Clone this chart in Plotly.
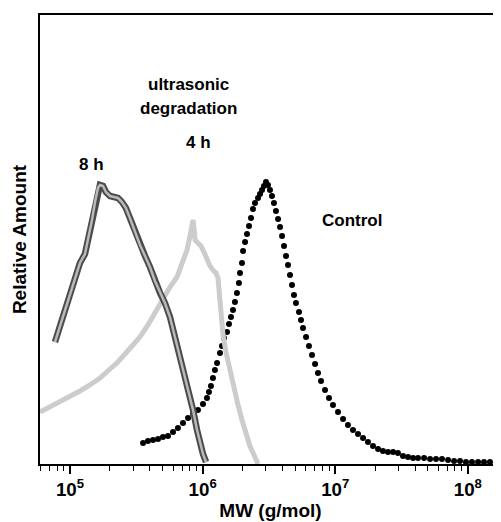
import plotly.graph_objects as go

# log10 of molecular weight (g/mol) and relative amount (arbitrary units)
control_log_mw = [5.551, 5.588, 5.626, 5.664, 5.701, 5.739, 5.777, 5.814, 5.852, 5.890,
                  5.928, 5.965, 6.003, 6.033, 6.048, 6.063, 6.078, 6.093, 6.109, 6.131,
                  6.146, 6.161, 6.184, 6.199, 6.214, 6.229, 6.244, 6.259, 6.274, 6.282,
                  6.297, 6.305, 6.320, 6.335, 6.350, 6.365, 6.380, 6.395, 6.418, 6.433,
                  6.448, 6.463, 6.478, 6.493, 6.508, 6.523, 6.538, 6.553, 6.569, 6.584,
                  6.599, 6.614, 6.629, 6.644, 6.659, 6.674, 6.689, 6.704, 6.727, 6.742,
                  6.757, 6.780, 6.802, 6.825, 6.848, 6.870, 6.893, 6.923, 6.953, 6.983,
                  7.021, 7.059, 7.096, 7.134, 7.172, 7.210, 7.247, 7.285, 7.323, 7.360,
                  7.398, 7.436, 7.473, 7.511, 7.549, 7.587, 7.624, 7.670, 7.715, 7.760,
                  7.805, 7.851, 7.896, 7.941, 7.986, 8.031, 8.077, 8.122, 8.167, 8.212,
                  8.250]
control_amount = [21, 23, 24, 25, 27, 28, 32, 36, 41, 46,
                  50, 54, 60, 66, 72, 78, 86, 94, 101, 111,
                  118, 126, 132, 140, 147, 154, 162, 171, 181, 191,
                  201, 213, 222, 230, 238, 246, 255, 261, 266, 270,
                  274, 278, 282, 279, 274, 268, 261, 253, 245, 237,
                  228, 218, 208, 199, 189, 179, 169, 161, 152, 144,
                  136, 127, 118, 109, 100, 91, 83, 74, 66, 59,
                  52, 45, 39, 34, 30, 26, 22, 18, 15, 13,
                  12, 12, 11, 8, 7, 6, 6, 6, 5, 5,
                  5, 4, 3, 3, 2, 2, 2, 2, 2, 1,
                  1]

h4_log_mw = [4.774, 4.849, 4.925, 5.000, 5.075, 5.151, 5.226, 5.302, 5.354, 5.415,
             5.468, 5.528, 5.588, 5.641, 5.679, 5.716, 5.754, 5.807, 5.845, 5.882,
             5.905, 5.928, 5.935, 5.943, 5.965, 5.988, 6.010, 6.033, 6.056, 6.078,
             6.101, 6.116, 6.124, 6.131, 6.139, 6.154, 6.176, 6.207, 6.237, 6.267,
             6.297, 6.327, 6.357, 6.388, 6.418]
h4_amount = [52, 57, 63, 68, 73, 79, 86, 95, 101, 110,
             118, 127, 139, 151, 161, 170, 177, 187, 200, 214,
             228, 244, 236, 224, 221, 218, 212, 204, 198, 194,
             191, 186, 174, 159, 146, 129, 112, 92, 74, 59,
             44, 30, 18, 9, 0]

h8_log_mw = [4.887, 4.925, 4.962, 5.000, 5.038, 5.075, 5.113, 5.136, 5.166, 5.189,
             5.211, 5.226, 5.249, 5.271, 5.302, 5.332, 5.362, 5.392, 5.422, 5.452,
             5.490, 5.528, 5.566, 5.603, 5.641, 5.679, 5.716, 5.754, 5.784, 5.814,
             5.852, 5.890, 5.928, 5.958, 5.980, 6.003, 6.026]
h8_amount = [122, 138, 154, 170, 185, 201, 210, 224, 244, 262,
             276, 279, 278, 272, 268, 267, 266, 262, 256, 246,
             232, 219, 208, 197, 183, 171, 161, 147, 131, 116,
             97, 76, 54, 34, 21, 10, 2]

assert len(control_log_mw) == len(control_amount)
assert len(h4_log_mw) == len(h4_amount)
assert len(h8_log_mw) == len(h8_amount)

control_mw = [10 ** v for v in control_log_mw]
h4_mw = [10 ** v for v in h4_log_mw]
h8_mw = [10 ** v for v in h8_log_mw]

FONT = "Liberation Sans, Arial, sans-serif"

fig = go.Figure()
fig.add_trace(go.Scatter(x=control_mw, y=control_amount, mode="markers",
                         marker=dict(symbol="circle", size=6, color="black"),
                         name="Control", showlegend=False))
fig.add_trace(go.Scatter(x=h4_mw, y=h4_amount, mode="lines",
                         line=dict(color="rgb(204,204,204)", width=5),
                         name="4 h", showlegend=False))
fig.add_trace(go.Scatter(x=h8_mw, y=h8_amount, mode="lines",
                         line=dict(color="rgb(75,75,75)", width=6.5),
                         name="8 h", showlegend=False))
fig.add_trace(go.Scatter(x=h8_mw, y=h8_amount, mode="lines",
                         line=dict(color="rgb(185,185,185)", width=2.5),
                         hoverinfo="skip", showlegend=False))

# the page body adds an 8 px margin; plot area spans page x 40..501, y 15..464
ann_font = dict(family=FONT, size=17, color="black", weight="bold")
annotations = [
    dict(text="ultrasonic", x=188, y=84),
    dict(text="degradation", x=188, y=109),
    dict(text="4 h", x=198, y=142),
    dict(text="8 h", x=91, y=165),
    dict(text="Control", x=352, y=221),
]
for a in annotations:
    fig.add_annotation(text=a["text"], xref="paper", yref="paper",
                       x=(a["x"] - 40) / 461, y=(464 - a["y"]) / 449,
                       xanchor="center", yanchor="middle", showarrow=False,
                       font=ann_font)

fig.update_layout(
    width=493, height=514,
    margin=dict(l=32, r=0, t=7, b=58),
    paper_bgcolor="white", plot_bgcolor="white",
    font=dict(family=FONT, color="black"),
    xaxis=dict(
        type="log", range=[4.774, 8.25], dtick=1,
        exponentformat="power", showexponent="all",
        showline=True, linecolor="black", linewidth=2, mirror=True,
        ticks="outside", ticklen=8, tickwidth=1.5, tickcolor="black",
        tickfont=dict(family=FONT, size=15, color="black", weight="bold"),
        minor=dict(dtick="D1", ticks="outside", ticklen=5, tickwidth=1.2,
                   tickcolor="black", showgrid=False),
        showgrid=False, zeroline=False,
        title=dict(text="MW (g/mol)", standoff=4,
                   font=dict(family=FONT, size=19, color="black", weight="bold")),
    ),
    yaxis=dict(
        range=[0, 449], showticklabels=False, ticks="",
        showline=True, linecolor="black", linewidth=2,
        showgrid=False, zeroline=False,
        title=dict(text="Relative Amount", standoff=6,
                   font=dict(family=FONT, size=19, color="black", weight="bold")),
    ),
)

fig.write_html("out.html")
